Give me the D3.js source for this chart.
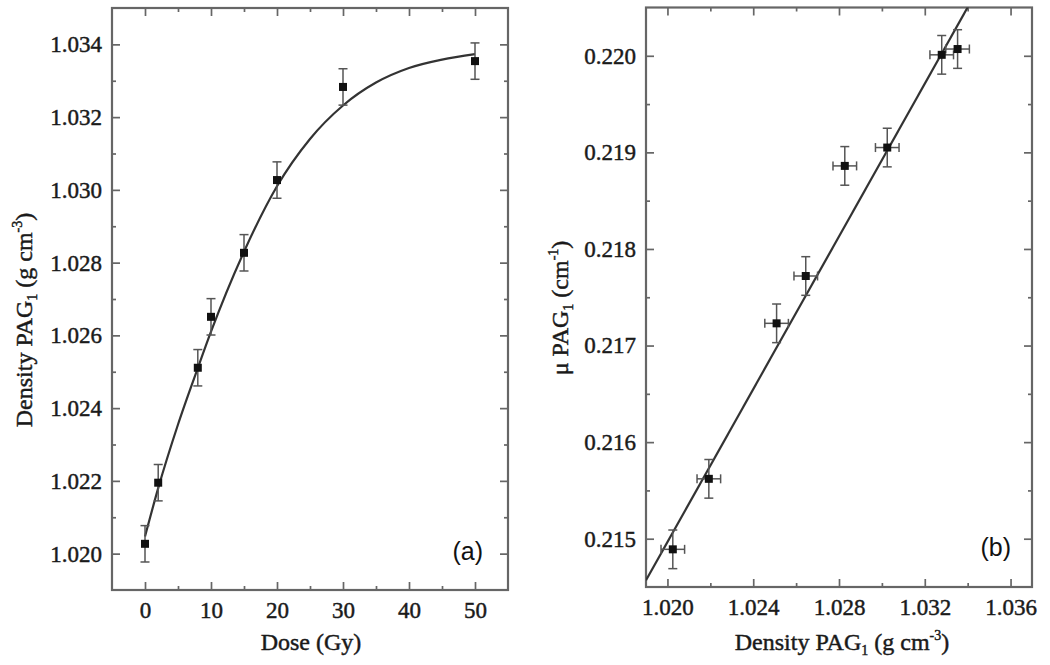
<!DOCTYPE html>
<html><head><meta charset="utf-8">
<script src="https://cdn.jsdelivr.net/npm/d3@7"></script>
<style>body{margin:0;background:#fff}</style>
</head><body><svg id="c" width="1050" height="665"></svg>
<script>
// ---- Panel (a): density vs dose ----
const doseGy      = [0, 2, 8, 10, 15, 20, 30, 50];
const densityA    = [1.02027, 1.02195, 1.02511, 1.02651, 1.02827, 1.03027, 1.03283, 1.03354];
const densityErrA = [0.0005, 0.0005, 0.0005, 0.0005, 0.0005, 0.0005, 0.0005, 0.0005];
// fitted curve
const fitDoseA    = [0, 2, 5, 8, 10, 15, 20, 25, 30, 35, 40, 45, 50];
const fitDensityA = [1.02047, 1.02180, 1.02355, 1.02510, 1.02610, 1.02830, 1.03010, 1.03140, 1.03232, 1.03295, 1.03335, 1.03358, 1.03373];
const doseTicks   = [0, 10, 20, 30, 40, 50];
const doseMinor   = [5, 15, 25, 35, 45];
const densTicksA  = [1.020, 1.022, 1.024, 1.026, 1.028, 1.030, 1.032, 1.034];
const densMinorA  = [1.021, 1.023, 1.025, 1.027, 1.029, 1.031, 1.033];

// ---- Panel (b): mu vs density ----
const densityB    = [1.02025, 1.02193, 1.02509, 1.02645, 1.02827, 1.03025, 1.03279, 1.03353];
const muB         = [0.21489, 0.21562, 0.21723, 0.21772, 0.21886, 0.21905, 0.22001, 0.22007];
const densityErrB = [0.00055, 0.00055, 0.00055, 0.00055, 0.00055, 0.00055, 0.00055, 0.00055];
const muErrB      = [0.0002, 0.0002, 0.0002, 0.0002, 0.0002, 0.0002, 0.0002, 0.0002];
const fitDensityB = [1.019, 1.0345];
const fitMuB      = [0.21457, 0.22070];
const densTicksB  = [1.020, 1.024, 1.028, 1.032, 1.036];
const densMinorB  = [1.022, 1.026, 1.030, 1.034];
const muTicks     = [0.215, 0.216, 0.217, 0.218, 0.219, 0.220];
const muMinor     = [0.2155, 0.2165, 0.2175, 0.2185, 0.2195];

const svg = d3.select("#c");
svg.append("rect").attr("width",1050).attr("height",665).attr("fill","#fff");

const SERIF = "'Liberation Serif','Times New Roman',serif";
const FRAME = "#666", LINE = "#333", ERR = "#555", MARK = "#111", TXT = "#1a1a1a";

function heavy(sel) { return sel.attr("fill",TXT).attr("stroke",TXT).attr("stroke-width",0.45); }

function panel(opt) {
  const {x0,x1,y0,y1,xDomain,yDomain,xTicks,xMinor,yTicks,yMinor,xFmt,yFmt,id} = opt;
  const x = d3.scaleLinear().domain(xDomain).range([x0,x1]);
  const y = d3.scaleLinear().domain(yDomain).range([y1,y0]);
  const g = svg.append("g");
  const styleAxis = (sel, labels) => {
    sel.select(".domain").remove();
    sel.selectAll("line").attr("stroke",FRAME).attr("stroke-width",1.7);
    heavy(sel.selectAll("text").attr("font-family",SERIF).attr("font-size",23));
    if (!labels) sel.selectAll("text").remove();
  };
  g.append("g").attr("transform",`translate(0,${y1})`)
    .call(d3.axisBottom(x).tickValues(xTicks).tickFormat(xFmt).tickSizeInner(-8).tickSizeOuter(0).tickPadding(12))
    .call(s=>styleAxis(s,true));
  g.append("g").attr("transform",`translate(0,${y0})`)
    .call(d3.axisTop(x).tickValues(xTicks).tickSizeInner(-8).tickSizeOuter(0))
    .call(s=>styleAxis(s,false));
  g.append("g").attr("transform",`translate(${x0},0)`)
    .call(d3.axisLeft(y).tickValues(yTicks).tickFormat(yFmt).tickSizeInner(-8).tickSizeOuter(0).tickPadding(10))
    .call(s=>styleAxis(s,true));
  g.append("g").attr("transform",`translate(${x1},0)`)
    .call(d3.axisRight(y).tickValues(yTicks).tickSizeInner(-8).tickSizeOuter(0))
    .call(s=>styleAxis(s,false));
  g.append("g").attr("transform",`translate(0,${y1})`)
    .call(d3.axisBottom(x).tickValues(xMinor).tickFormat("").tickSizeInner(-4).tickSizeOuter(0)).call(s=>styleAxis(s,false));
  g.append("g").attr("transform",`translate(0,${y0})`)
    .call(d3.axisTop(x).tickValues(xMinor).tickFormat("").tickSizeInner(-4).tickSizeOuter(0)).call(s=>styleAxis(s,false));
  g.append("g").attr("transform",`translate(${x0},0)`)
    .call(d3.axisLeft(y).tickValues(yMinor).tickFormat("").tickSizeInner(-4).tickSizeOuter(0)).call(s=>styleAxis(s,false));
  g.append("g").attr("transform",`translate(${x1},0)`)
    .call(d3.axisRight(y).tickValues(yMinor).tickFormat("").tickSizeInner(-4).tickSizeOuter(0)).call(s=>styleAxis(s,false));
  g.append("rect").attr("x",x0).attr("y",y0).attr("width",x1-x0).attr("height",y1-y0)
    .attr("fill","none").attr("stroke",FRAME).attr("stroke-width",2.2);
  svg.append("clipPath").attr("id",id).append("rect")
    .attr("x",x0).attr("y",y0).attr("width",x1-x0).attr("height",y1-y0);
  return {x,y,g};
}

function errBars(P, xs, ys, yErr, xErr) {
  const {x,y,g} = P;
  const eg = g.append("g").attr("stroke",ERR).attr("stroke-width",1.5).attr("fill","none");
  xs.forEach((xv,i)=>{
    const cx = x(xv), cy = y(ys[i]);
    if (yErr) {
      const t = y(ys[i]+yErr[i]), b = y(ys[i]-yErr[i]);
      eg.append("line").attr("x1",cx).attr("x2",cx).attr("y1",t).attr("y2",b);
      eg.append("line").attr("x1",cx-4.5).attr("x2",cx+4.5).attr("y1",t).attr("y2",t);
      eg.append("line").attr("x1",cx-4.5).attr("x2",cx+4.5).attr("y1",b).attr("y2",b);
    }
    if (xErr) {
      const l = x(xv-xErr[i]), r = x(xv+xErr[i]);
      eg.append("line").attr("x1",l).attr("x2",r).attr("y1",cy).attr("y2",cy);
      eg.append("line").attr("x1",l).attr("x2",l).attr("y1",cy-4.5).attr("y2",cy+4.5);
      eg.append("line").attr("x1",r).attr("x2",r).attr("y1",cy-4.5).attr("y2",cy+4.5);
    }
  });
}
function markers(P, xs, ys) {
  const {x,y,g} = P;
  g.append("g").selectAll("rect").data(xs).join("rect")
    .attr("x",(d)=>x(d)-4).attr("y",(d,i)=>y(ys[i])-4)
    .attr("width",8).attr("height",8).attr("fill",MARK);
}

const A = panel({x0:112,x1:508,y0:8,y1:590,xDomain:[-5,55],yDomain:[1.019,1.035],
  xTicks:doseTicks,xMinor:doseMinor,yTicks:densTicksA,yMinor:densMinorA,
  xFmt:d3.format("d"),yFmt:d3.format(".3f"),id:"clipA"});
A.g.append("path").datum(fitDoseA.map((d,i)=>[d,fitDensityA[i]]))
  .attr("clip-path","url(#clipA)")
  .attr("d", d3.line().x(d=>A.x(d[0])).y(d=>A.y(d[1])).curve(d3.curveMonotoneX))
  .attr("fill","none").attr("stroke",LINE).attr("stroke-width",2.2);
errBars(A, doseGy, densityA, densityErrA, null);
markers(A, doseGy, densityA);

const B = panel({x0:646,x1:1032,y0:7.5,y1:587,xDomain:[1.019,1.037],yDomain:[0.2145,0.2205],
  xTicks:densTicksB,xMinor:densMinorB,yTicks:muTicks,yMinor:muMinor,
  xFmt:d3.format(".3f"),yFmt:d3.format(".3f"),id:"clipB"});
B.g.append("path").datum(fitDensityB.map((d,i)=>[d,fitMuB[i]]))
  .attr("clip-path","url(#clipB)")
  .attr("d", d3.line().x(d=>B.x(d[0])).y(d=>B.y(d[1])))
  .attr("fill","none").attr("stroke",LINE).attr("stroke-width",2.2);
errBars(B, densityB, muB, muErrB, densityErrB);
markers(B, densityB, muB);

svg.append("text").attr("x",483).attr("y",560).attr("text-anchor","end")
  .attr("font-family","'Liberation Sans',Arial,sans-serif").attr("font-size",25).attr("fill","#111").text("(a)");
svg.append("text").attr("x",1011).attr("y",556).attr("text-anchor","end")
  .attr("font-family","'Liberation Sans',Arial,sans-serif").attr("font-size",25).attr("fill","#111").text("(b)");

function title(x, y, rot, parts) {
  const t = heavy(svg.append("text").attr("transform",`translate(${x},${y}) rotate(${rot})`)
    .attr("text-anchor","middle").attr("font-family",SERIF).attr("font-size",24));
  parts.forEach(p=>{
    const s = t.append("tspan").text(p.t);
    if (p.sub) s.attr("font-size",14).attr("dy",5);
    if (p.sup) s.attr("font-size",14).attr("dy",-10);
    if (p.back) s.attr("dy",p.back);
  });
}
title(311, 650, 0, [{t:"Dose (Gy)"}]);
title(842, 650, 0, [{t:"Density PAG"},{t:"1",sub:true},{t:" (g cm",back:-5},{t:"-3",sup:true},{t:")",back:10}]);
title(32, 320, -90, [{t:"Density PAG"},{t:"1",sub:true},{t:" (g cm",back:-5},{t:"-3",sup:true},{t:")",back:10}]);
title(568, 308, -90, [{t:"μ PAG"},{t:"1",sub:true},{t:" (cm",back:-5},{t:"-1",sup:true},{t:")",back:10}]);
</script></body></html>
